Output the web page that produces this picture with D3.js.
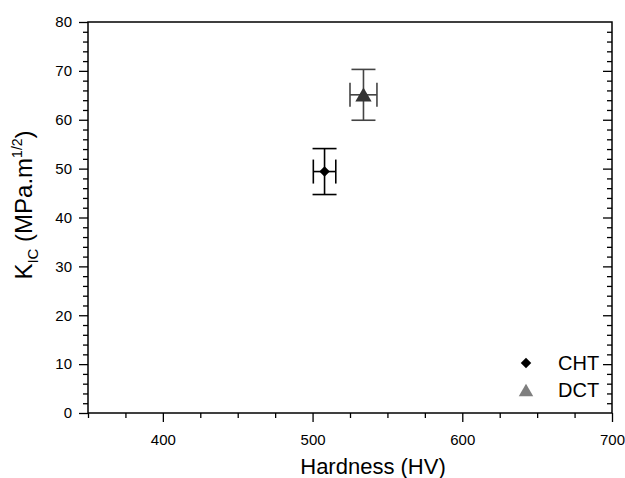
<!DOCTYPE html>
<html>
<head>
<meta charset="utf-8">
<script src="https://cdn.jsdelivr.net/npm/d3@7"></script>
<style>
  body { margin: 0; background: #fff; }
  text { font-family: Arial, "Liberation Sans", sans-serif; }
</style>
</head>
<body>
<script>
// data
const seriesNames = ["CHT", "DCT"]
const hardness = [508, 534]
const hardnessErr = [7.5, 9]
const kic = [49.4, 65.1]
const kicErr = [4.7, 5.2]
const markerColors = ["#000000", "#333333"]
const legendColors = ["#000000", "#7f7f7f"]
const barColors = ["#000000", "#444444"]

const xTicksMajor = [400, 500, 600, 700]
const yTicksMajor = [0, 10, 20, 30, 40, 50, 60, 70, 80]

const width = 625
const height = 478
// plot frame (named so they don't clash with window.top etc)
const plotL = 88, plotR = 612, plotT = 22, plotB = 413

const svg = d3.select("body").append("svg")
    .attr("width", width)
    .attr("height", height)

const x = d3.scaleLinear().domain([350, 700]).range([plotL, plotR])
const y = d3.scaleLinear().domain([0, 80]).range([plotB, plotT])

const xMinor = d3.range(350, 701, 25).filter(v => !xTicksMajor.includes(v))
const yMinor = d3.range(0, 81, 2).filter(v => !yTicksMajor.includes(v))

// frame
svg.append("rect")
    .attr("x", plotL).attr("y", plotT)
    .attr("width", plotR - plotL).attr("height", plotB - plotT)
    .attr("fill", "none").attr("stroke", "#000").attr("stroke-width", 1.5)

function styleAxis(g){
    g.select(".domain").remove()
    g.selectAll("line").attr("stroke", "#000").attr("stroke-width", 1.3)
    g.selectAll("text").style("font-size", "15px").attr("fill", "#000")
}

// bottom axis
svg.append("g").attr("transform", `translate(0,${plotB})`)
    .call(d3.axisBottom(x).tickValues(xMinor).tickSize(5).tickFormat(""))
    .call(styleAxis)
svg.append("g").attr("transform", `translate(0,${plotB})`)
    .call(d3.axisBottom(x).tickValues(xTicksMajor).tickSize(9).tickPadding(12).tickFormat(d3.format("d")))
    .call(styleAxis)

// left axis
svg.append("g").attr("transform", `translate(${plotL},0)`)
    .call(d3.axisLeft(y).tickValues(yMinor).tickSize(5).tickFormat(""))
    .call(styleAxis)
svg.append("g").attr("transform", `translate(${plotL},0)`)
    .call(d3.axisLeft(y).tickValues(yTicksMajor).tickSize(9).tickPadding(7).tickFormat(d3.format("d")))
    .call(styleAxis)

// right axis, ticks inward
svg.append("g").attr("transform", `translate(${plotR},0)`)
    .call(d3.axisLeft(y).tickValues(yMinor).tickSize(5).tickFormat(""))
    .call(styleAxis)
svg.append("g").attr("transform", `translate(${plotR},0)`)
    .call(d3.axisLeft(y).tickValues(yTicksMajor.filter(v => v > 0 && v < 80)).tickSize(9).tickFormat(""))
    .call(styleAxis)

// axis titles
svg.append("text")
    .attr("x", 373).attr("y", 474)
    .attr("text-anchor", "middle").attr("font-size", 22)
    .text("Hardness (HV)")

const yTitle = svg.append("text")
    .attr("transform", `translate(32,205) rotate(-90)`)
    .attr("text-anchor", "middle").attr("font-size", 24)
yTitle.append("tspan").text("K")
yTitle.append("tspan").attr("font-size", 15).attr("dy", 6).text("IC")
yTitle.append("tspan").attr("dy", -6).text(" (MPa.m")
yTitle.append("tspan").attr("font-size", 14).attr("dy", -10).text("1/2")
yTitle.append("tspan").attr("dy", 10).text(")")

// points with error bars
const points = seriesNames.map((name, i) => ({
    name: name, hx: hardness[i], hxe: hardnessErr[i],
    k: kic[i], ke: kicErr[i], i: i
}))

const cap = 12
const pts = svg.selectAll("g.pt").data(points).join("g").attr("class", "pt")
pts.each(function(d){
    const g = d3.select(this)
    const c = barColors[d.i]
    const cx = x(d.hx), cy = y(d.k)
    const segs = [
        [cx, y(d.k - d.ke), cx, y(d.k + d.ke)],
        [cx - cap, y(d.k + d.ke), cx + cap, y(d.k + d.ke)],
        [cx - cap, y(d.k - d.ke), cx + cap, y(d.k - d.ke)],
        [x(d.hx - d.hxe), cy, x(d.hx + d.hxe), cy],
        [x(d.hx - d.hxe), cy - cap, x(d.hx - d.hxe), cy + cap],
        [x(d.hx + d.hxe), cy - cap, x(d.hx + d.hxe), cy + cap]
    ]
    g.selectAll("line").data(segs).join("line")
        .attr("x1", s => s[0]).attr("y1", s => s[1])
        .attr("x2", s => s[2]).attr("y2", s => s[3])
        .attr("stroke", c).attr("stroke-width", 1.6)
})

const diamond = d3.symbol().type(d3.symbolDiamond2).size(70)
const triangle = d3.symbol().type(d3.symbolTriangle2).size(190)
pts.append("path")
    .attr("transform", d => `translate(${x(d.hx)},${y(d.k) + (d.i === 1 ? 2 : 0)})`)
    .attr("d", d => d.i === 0 ? diamond() : triangle())
    .attr("fill", d => markerColors[d.i])

// legend
const legend = svg.append("g")
const legY = [363, 390]
seriesNames.forEach((name, i) => {
    legend.append("path")
        .attr("transform", `translate(526,${legY[i] + (i === 1 ? 2 : 0)})`)
        .attr("d", i === 0 ? diamond() : d3.symbol().type(d3.symbolTriangle2).size(150)())
        .attr("fill", legendColors[i])
    legend.append("text")
        .attr("x", 558).attr("y", legY[i] + 7)
        .attr("font-size", 20)
        .text(name)
})
</script>
</body>
</html>
